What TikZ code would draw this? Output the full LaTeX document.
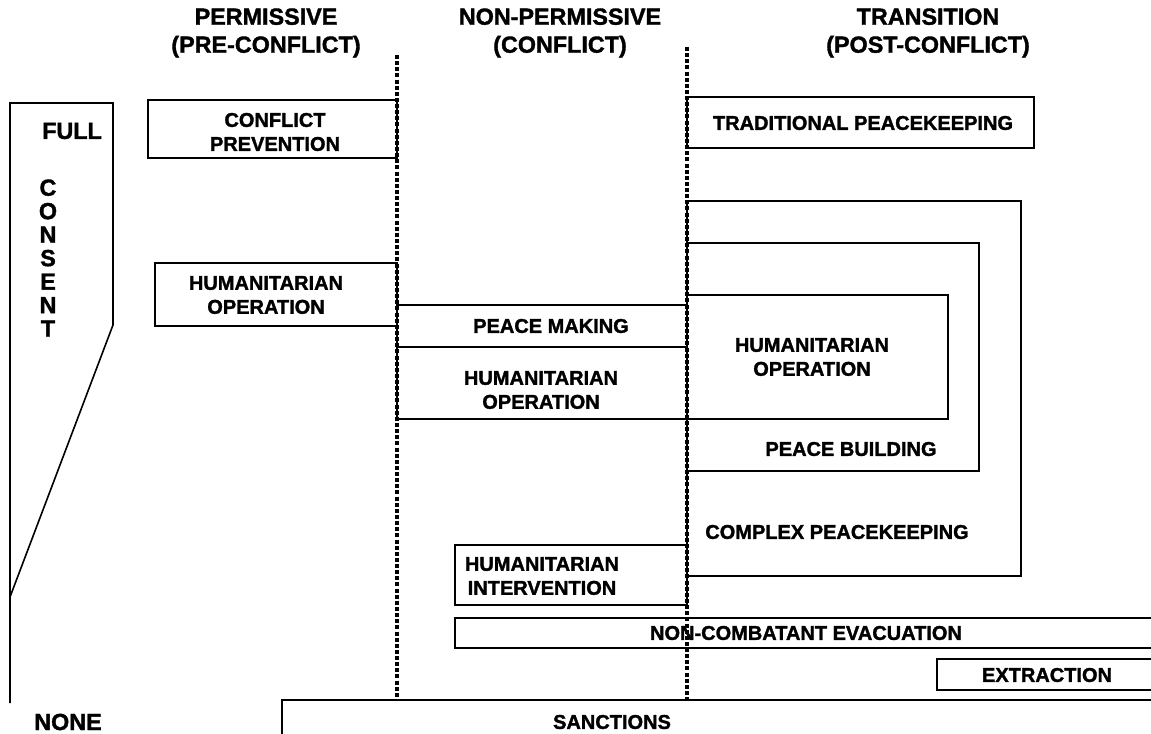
\documentclass[tikz,border=0pt]{standalone}
\usepackage{fontspec}
\setmainfont{Liberation Sans}[BoldFeatures={FakeBold=1.5}]
\tikzset{
  box/.style={draw,line width=1.2pt},
  lbl/.style={font=\fontsize{15}{18}\selectfont\bfseries,align=center,inner sep=0pt},
  hdr/.style={font=\fontsize{17.5}{21}\selectfont\bfseries,align=center,inner sep=0pt},
  divider/.style={line width=2.8pt,dash pattern=on 3pt off 1.6pt}
}
\begin{document}
\begin{tikzpicture}[x=0.75pt,y=-0.75pt]
  \useasboundingbox (0,0) rectangle (1151,734);
  \clip (0,0) rectangle (1151,734);
  % column headings
  \node[hdr] (perm) at (266,33) {PERMISSIVE\\(PRE-CONFLICT)};
  \node[hdr] (nonperm) at (560,33) {NON-PERMISSIVE\\(CONFLICT)};
  \node[hdr] (trans) at (928,33) {TRANSITION\\(POST-CONFLICT)};
  % consent scale
  \draw[line width=1.2pt] (10,703) -- (10,103) -- (113,103) -- (113,325) -- (10,597);
  \node[hdr] (full) at (72,131) {FULL};
  \node[hdr,font=\fontsize{17.5}{17.6}\selectfont\bfseries] (consent) at (48,258) {C\\O\\N\\S\\E\\N\\T};
  \node[hdr] (none) at (68,722) {NONE};
  % boxes
  \draw[box] (148,100) rectangle (397,158);
  \draw[box] (687,97) rectangle (1034,148);
  \draw[box] (155,263) rectangle (397,326);
  \draw[box] (397,305) rectangle (687,347);
  \draw[box] (397,347) rectangle (687,419);
  \draw[box] (687,201) rectangle (1021,576);
  \draw[box] (687,243) rectangle (979,471);
  \draw[box] (687,295) rectangle (948,419);
  \draw[box] (455,545) rectangle (687,605);
  \draw[box] (455,618) rectangle (1160,648);
  \draw[box] (937,659) rectangle (1160,690);
  \draw[box] (282,740) -- (282,700) -- (1160,700);
  % phase dividers
  \draw[divider] (397,55) -- (397,700);
  \draw[divider] (687,47) -- (687,700);
  % labels
  \node[lbl] (prev) at (275,132) {CONFLICT\\PREVENTION};
  \node[lbl] (trad) at (863,123) {TRADITIONAL PEACEKEEPING};
  \node[lbl] (humopa) at (266,295) {HUMANITARIAN\\OPERATION};
  \node[lbl] (making) at (551,326) {PEACE MAKING};
  \node[lbl] (humopb) at (541,390) {HUMANITARIAN\\OPERATION};
  \node[lbl] (humopc) at (812,357) {HUMANITARIAN\\OPERATION};
  \node[lbl] (building) at (851,449) {PEACE BUILDING};
  \node[lbl] (complex) at (837,532) {COMPLEX PEACEKEEPING};
  \node[lbl] (interv) at (542,576) {HUMANITARIAN\\INTERVENTION};
  \node[lbl] (evac) at (806,633) {NON-COMBATANT EVACUATION};
  \node[lbl] (extr) at (1047,675) {EXTRACTION};
  \node[lbl] (sanct) at (612,722) {SANCTIONS};
\end{tikzpicture}
\end{document}
